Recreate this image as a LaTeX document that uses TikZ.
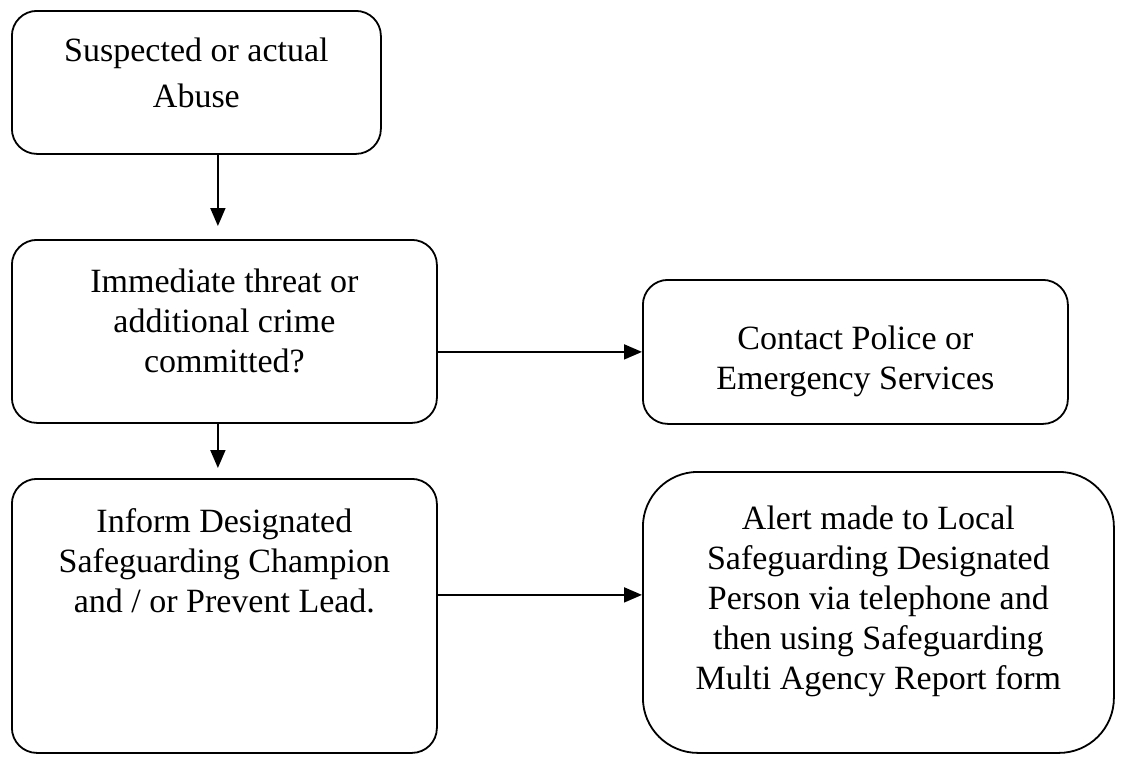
\documentclass[tikz,border=0pt]{standalone}
\usepackage{fontspec}
\setmainfont{Liberation Serif}
\usetikzlibrary{positioning, calc, arrows.meta}
\tikzset{
    box/.style = {draw=black, line width=1.8pt, rounded corners=25pt,
        inner sep=0pt, anchor=north west},
    bigbox/.style = {box, rounded corners=55pt},
    boxtext/.style = {inner sep=0pt, align=center,
        font=\fontsize{34}{40}\selectfont},
    flow/.style = {-{Triangle[length=18pt, width=15pt]}, line width=1.8pt},
}
\begin{document}
\begin{tikzpicture}[x=1pt, y=-1pt]
    \useasboundingbox (0,0) rectangle (1124,756);
    % boxes
    \node (abuse) [box, minimum width=369pt, minimum height=143pt] at (11,10) {};
    \node (threat) [box, minimum width=425pt, minimum height=183pt] at (11,239) {};
    \node (police) [box, minimum width=425pt, minimum height=144pt] at (642,279) {};
    \node (inform) [box, minimum width=425pt, minimum height=274pt] at (11,478) {};
    \node (alert) [bigbox, minimum width=471pt, minimum height=281pt] at (642,471) {};
    % texts
    \node (abuse_t) [boxtext, below=28pt of abuse.north] {Suspected or actual\\[6pt]Abuse};
    \node (threat_t) [boxtext, below=30pt of threat.north]
        {Immediate threat or\\additional crime\\committed?};
    \node (police_t) [boxtext, below=47pt of police.north]
        {Contact Police or\\Emergency Services};
    \node (inform_t) [boxtext, below=30pt of inform.north]
        {Inform Designated\\Safeguarding Champion\\and / or Prevent Lead.};
    \node (alert_t) [boxtext, below=35pt of alert.north]
        {Alert made to Local\\Safeguarding Designated\\Person via telephone and\\then using Safeguarding\\Multi Agency Report form};
    % arrows
    \coordinate (a1) at ([xshift=21.5pt]abuse.south);
    \coordinate (a3) at ([xshift=-6.5pt]threat.south);
    \coordinate (a4) at ([yshift=21pt]inform.east);
    \draw[flow, shorten >=13pt] (a1) -- (a1 |- threat.north);
    \draw[flow] (threat.east |- police.west) -- (police.west);
    \draw[flow, shorten >=10pt] (a3) -- (a3 |- inform.north);
    \draw[flow] (a4) -- (a4 -| alert.west);
\end{tikzpicture}
\end{document}
